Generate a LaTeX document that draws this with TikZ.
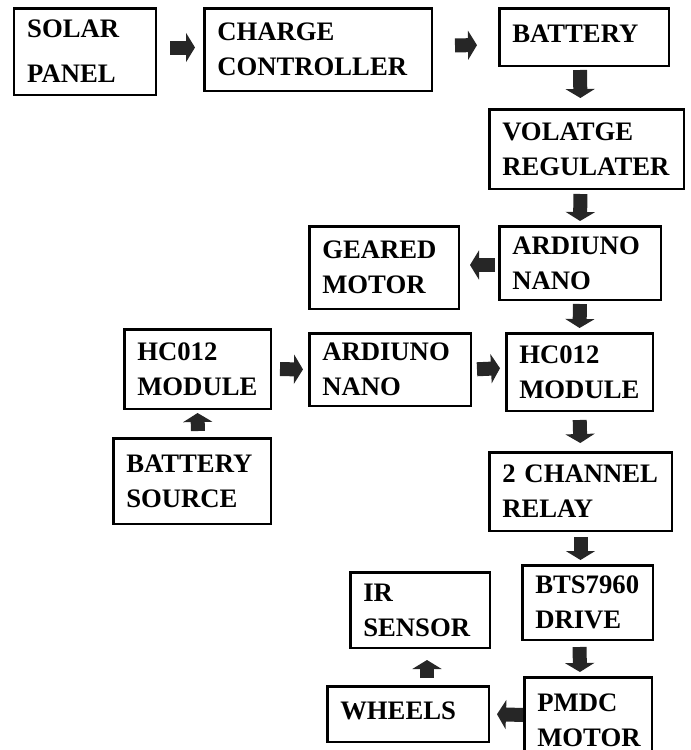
\documentclass[tikz,border=0pt]{standalone}
\usepackage{fontspec}
\setmainfont{Liberation Serif}
\usetikzlibrary{positioning, arrows.meta}

\begin{document}
\begin{tikzpicture}[blk/.style={draw, rectangle, line width=2.5pt, inner xsep=13pt, align=left, font=\bfseries\fontsize{26.7}{35}\selectfont},
  flow/.style={line width=14pt, black!85, -{Triangle[length=9pt, width=29pt]}}]
  \useasboundingbox (-13pt,7pt) rectangle (678pt,-743pt);
  \node[blk, text width=115.5pt, minimum height=86.5pt, anchor=north west] (solar) at (0,0) {SOLAR\\[10pt]PANEL};
  \node[blk, text width=201.5pt, minimum height=82.5pt] (charge) [below right=0pt and 46pt of solar.north east] {CHARGE\\CONTROLLER};
  \node[blk, text width=143.5pt, minimum height=57.5pt, text depth=6pt] (battery) [below right=0pt and 65pt of charge.north east] {BATTERY};
  \node[blk, text width=168.5pt, minimum height=79.5pt] (volt) [below right=41pt and -10pt of battery.south west] {VOLATGE\\REGULATER};
  \node[blk, text width=135.5pt, minimum height=73.5pt] (nanoA) [below right=35pt and 10pt of volt.south west] {ARDIUNO\\NANO};
  \node[blk, text width=123.5pt, minimum height=82.5pt] (geared) [below left=0pt and 38pt of nanoA.north west] {GEARED\\MOTOR};
  \node[blk, text width=120.5pt, minimum height=77.5pt] (hcR) [below right=31pt and 7pt of nanoA.south west] {HC012\\MODULE};
  \node[blk, text width=135.5pt, minimum height=72.5pt] (nanoB) [below left=0pt and 33pt of hcR.north west] {ARDIUNO\\NANO};
  \node[blk, text width=120.5pt, minimum height=79.5pt] (hcL) [below left=-4pt and 36pt of nanoB.north west] {HC012\\MODULE};
  \node[blk, text width=131.5pt, minimum height=85.5pt] (source) [below left=27pt and 0pt of hcL.south east] {BATTERY\\SOURCE};
  \node[blk, text width=156.5pt, minimum height=78.5pt] (relay) [below right=39pt and -17pt of hcR.south west] {2 CHANNEL\\RELAY};
  \node[blk, text width=104.5pt, minimum height=74.5pt] (drive) [below right=32pt and 33pt of relay.south west] {BTS7960\\DRIVE};
  \node[blk, text width=113.5pt, minimum height=75.5pt] (ir) [below left=7pt and 30pt of drive.north west] {IR\\SENSOR};
  \node[blk, text width=101.5pt, minimum height=85.5pt] (pmdc) [below right=35pt and 2pt of drive.south west] {PMDC\\MOTOR};
  \node[blk, text width=135.5pt, minimum height=55.5pt, text depth=6pt] (wheels) [below left=9pt and 33pt of pmdc.north west] {WHEELS};

  \path[flow] ([yshift=4pt]solar.east) edge[shorten <=13pt, shorten >=8pt] ([yshift=2pt]charge.west)
  ([yshift=4pt]charge.east) edge[shorten <=22pt, shorten >=21pt] ([yshift=-8pt]battery.west)
  ([xshift=-4pt]battery.south) edge[shorten <=3pt, shorten >=10pt] ([xshift=-6pt]volt.north)
  ([xshift=-6pt]volt.south) edge[shorten <=4pt, shorten >=4pt] (nanoA.north)
  ([yshift=-2pt]nanoA.west) edge[shorten <=3pt, shorten >=10pt] ([yshift=2.5pt]geared.east)
  (nanoA.south) edge[shorten <=3pt, shorten >=4pt] (hcR.north)
  (hcL.east) edge[shorten <=8pt, shorten >=5pt] (nanoB.west)
  (nanoB.east) edge[shorten <=5pt, shorten >=5pt] ([yshift=4pt]hcR.west)
  ([xshift=6pt]source.north) edge[shorten <=6pt, shorten >=3pt] (hcL.south)
  (hcR.south) edge[shorten <=8pt, shorten >=8pt] (relay.north)
  (relay.south) edge[shorten <=5pt, shorten >=4pt] ([xshift=-7pt]drive.north)
  ([xshift=-8pt]drive.south) edge[shorten <=6pt, shorten >=4pt] ([xshift=-8pt]pmdc.north)
  ([yshift=5pt]pmdc.west) edge[shorten <=0pt, shorten >=7pt] (wheels.east)
  ([xshift=19pt]wheels.north) edge[shorten <=7pt, shorten >=11pt] ([xshift=7pt]ir.south);
\end{tikzpicture}
\end{document}
